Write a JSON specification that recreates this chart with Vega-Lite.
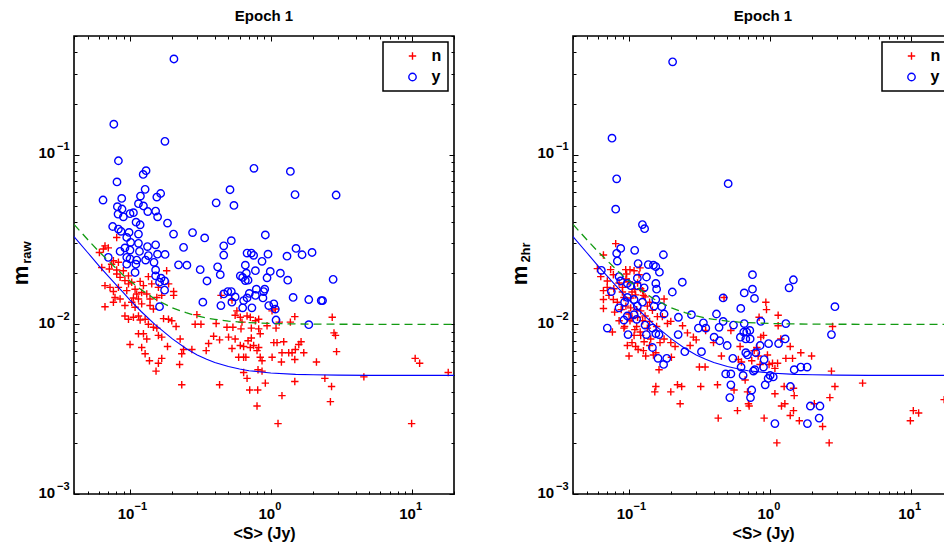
{
"$schema": "https://vega.github.io/schema/vega-lite/v6.json",
"autosize": {"type": "pad"},
"padding": {"left": 8, "top": 7, "right": 0, "bottom": 0},
"bounds": "flush",
"spacing": 119,
"resolve": {"scale": {"color": "independent", "shape": "independent"}, "legend": {"color": "independent", "shape": "independent"}},
"config": {
 "view": {"stroke": "black", "strokeWidth": 1.6},
 "font": "Liberation Sans",
 "axis": {"grid": false, "domain": false, "tickColor": "black", "tickWidth": 1, "labelColor": "black", "labelFont": "Liberation Sans", "labelFontWeight": "bold", "titleFont": "Liberation Sans", "titleFontWeight": "bold", "titleColor": "black", "labelOverlap": false, "labelFlush": false, "labelBound": false},
 "legend": {"padding": 6, "symbolOffset": 15.5, "labelOffset": 11, "rowPadding": 5, "symbolSize": 55, "symbolStrokeWidth": 1.4, "labelFont": "Liberation Sans", "labelFontSize": 16, "labelFontWeight": "bold", "labelColor": "black", "strokeColor": "black", "strokeWidth": 1.5, "fillColor": "white", "cornerRadius": 0},
 "title": {"font": "Liberation Sans", "fontSize": 15, "fontWeight": "bold", "color": "black", "offset": 3.3, "anchor": "middle"}
},
"datasets": {
 "fit": [
  {"S":0.04,"mb":0.0329,"mg":0.0388},{"S":0.05,"mb":0.0265,"mg":0.0316},{"S":0.06,"mb":0.0222,"mg":0.0269},{"S":0.07,"mb":0.0192,"mg":0.0237},{"S":0.08,"mb":0.0170,"mg":0.0213},{"S":0.09,"mb":0.0153,"mg":0.0194},{"S":0.1,"mb":0.0139,"mg":0.0180},{"S":0.12,"mb":0.0119,"mg":0.0160},{"S":0.15,"mb":0.0100,"mg":0.0141},{"S":0.2,"mb":0.0082,"mg":0.0125},{"S":0.25,"mb":0.0072,"mg":0.0117},{"S":0.3,"mb":0.0066,"mg":0.0112},{"S":0.35,"mb":0.00623,"mg":0.01088},{"S":0.4,"mb":0.00596,"mg":0.0107},{"S":0.5,"mb":0.00564,"mg":0.01044},{"S":0.6,"mb":0.00545,"mg":0.01031},{"S":0.7,"mb":0.00533,"mg":0.01023},{"S":1,"mb":0.00517,"mg":0.01011},{"S":1.5,"mb":0.00507,"mg":0.01005},{"S":2,"mb":0.00504,"mg":0.01003},{"S":3,"mb":0.00502,"mg":0.01001},{"S":5,"mb":0.005,"mg":0.01},{"S":10,"mb":0.005,"mg":0.01},{"S":20,"mb":0.005,"mg":0.01}
 ],
 "pl": [
  {"S":0.0804,"m":0.0325,"c":"n"},{"S":0.0664,"m":0.029,"c":"n"},{"S":0.0701,"m":0.0282,"c":"n"},{"S":0.0647,"m":0.0278,"c":"n"},{"S":0.0606,"m":0.0265,"c":"n"},{"S":0.0762,"m":0.0237,"c":"n"},{"S":0.0827,"m":0.0232,"c":"n"},{"S":0.074,"m":0.0226,"c":"n"},{"S":0.063,"m":0.0216,"c":"n"},{"S":0.0713,"m":0.0212,"c":"n"},{"S":0.0804,"m":0.0209,"c":"n"},{"S":0.0897,"m":0.0207,"c":"n"},{"S":0.0804,"m":0.0198,"c":"n"},{"S":0.085,"m":0.0189,"c":"n"},{"S":0.0975,"m":0.0193,"c":"n"},{"S":0.092,"m":0.0181,"c":"n"},{"S":0.1028,"m":0.0177,"c":"n"},{"S":0.118,"m":0.0179,"c":"n"},{"S":0.135,"m":0.0191,"c":"n"},{"S":0.182,"m":0.0207,"c":"n"},{"S":0.188,"m":0.0173,"c":"n"},{"S":0.0664,"m":0.0169,"c":"n"},{"S":0.0721,"m":0.0165,"c":"n"},{"S":0.0827,"m":0.0165,"c":"n"},{"S":0.0975,"m":0.0173,"c":"n"},{"S":0.1086,"m":0.0161,"c":"n"},{"S":0.1245,"m":0.0169,"c":"n"},{"S":0.1426,"m":0.0173,"c":"n"},{"S":0.159,"m":0.0165,"c":"n"},{"S":0.204,"m":0.0156,"c":"n"},{"S":0.204,"m":0.0148,"c":"n"},{"S":0.0762,"m":0.0156,"c":"n"},{"S":0.0948,"m":0.0158,"c":"n"},{"S":0.1116,"m":0.0151,"c":"n"},{"S":0.121,"m":0.0154,"c":"n"},{"S":0.1315,"m":0.0151,"c":"n"},{"S":0.0782,"m":0.0144,"c":"n"},{"S":0.085,"m":0.0141,"c":"n"},{"S":0.1057,"m":0.0143,"c":"n"},{"S":0.1148,"m":0.0141,"c":"n"},{"S":0.1387,"m":0.0141,"c":"n"},{"S":0.155,"m":0.0144,"c":"n"},{"S":0.168,"m":0.0148,"c":"n"},{"S":0.0762,"m":0.0135,"c":"n"},{"S":0.0664,"m":0.0127,"c":"n"},{"S":0.092,"m":0.0129,"c":"n"},{"S":0.1028,"m":0.0135,"c":"n"},{"S":0.1086,"m":0.0126,"c":"n"},{"S":0.121,"m":0.0132,"c":"n"},{"S":0.1387,"m":0.0129,"c":"n"},{"S":0.1466,"m":0.0123,"c":"n"},{"S":0.092,"m":0.0112,"c":"n"},{"S":0.0975,"m":0.0107,"c":"n"},{"S":0.1057,"m":0.011,"c":"n"},{"S":0.1148,"m":0.0112,"c":"n"},{"S":0.118,"m":0.0106,"c":"n"},{"S":0.128,"m":0.0107,"c":"n"},{"S":0.135,"m":0.01,"c":"n"},{"S":0.1466,"m":0.0096,"c":"n"},{"S":0.155,"m":0.0095,"c":"n"},{"S":0.173,"m":0.0108,"c":"n"},{"S":0.1875,"m":0.0107,"c":"n"},{"S":0.198,"m":0.0105,"c":"n"},{"S":0.2124,"m":0.0097,"c":"n"},{"S":0.1148,"m":0.0088,"c":"n"},{"S":0.1245,"m":0.0088,"c":"n"},{"S":0.1315,"m":0.0082,"c":"n"},{"S":0.159,"m":0.0086,"c":"n"},{"S":0.168,"m":0.0084,"c":"n"},{"S":0.1,"m":0.0076,"c":"n"},{"S":0.121,"m":0.0073,"c":"n"},{"S":0.1846,"m":0.0074,"c":"n"},{"S":0.227,"m":0.0082,"c":"n"},{"S":0.128,"m":0.0067,"c":"n"},{"S":0.1374,"m":0.0061,"c":"n"},{"S":0.159,"m":0.0059,"c":"n"},{"S":0.168,"m":0.0063,"c":"n"},{"S":0.153,"m":0.0053,"c":"n"},{"S":0.225,"m":0.0058,"c":"n"},{"S":0.233,"m":0.0067,"c":"n"},{"S":0.24,"m":0.0071,"c":"n"},{"S":0.275,"m":0.0071,"c":"n"},{"S":0.233,"m":0.0044,"c":"n"},{"S":0.2985,"m":0.0114,"c":"n"},{"S":0.29,"m":0.01,"c":"n"},{"S":0.319,"m":0.01,"c":"n"},{"S":0.3475,"m":0.007,"c":"n"},{"S":0.3614,"m":0.0077,"c":"n"},{"S":0.3924,"m":0.0085,"c":"n"},{"S":0.409,"m":0.0101,"c":"n"},{"S":0.4326,"m":0.0081,"c":"n"},{"S":0.4326,"m":0.0044,"c":"n"},{"S":0.443,"m":0.0148,"c":"n"},
  {"S":0.53,"m":0.0139,"c":"n"},{"S":0.574,"m":0.012,"c":"n"},{"S":0.558,"m":0.0113,"c":"n"},{"S":0.607,"m":0.011,"c":"n"},{"S":0.678,"m":0.0112,"c":"n"},{"S":0.715,"m":0.011,"c":"n"},{"S":0.624,"m":0.0103,"c":"n"},{"S":0.777,"m":0.0105,"c":"n"},{"S":0.82,"m":0.0107,"c":"n"},{"S":0.488,"m":0.0096,"c":"n"},{"S":0.538,"m":0.0096,"c":"n"},{"S":0.614,"m":0.0094,"c":"n"},{"S":0.727,"m":0.0095,"c":"n"},{"S":0.82,"m":0.0094,"c":"n"},{"S":0.841,"m":0.0088,"c":"n"},{"S":0.94,"m":0.0098,"c":"n"},{"S":1.089,"m":0.0095,"c":"n"},{"S":1.148,"m":0.0103,"c":"n"},{"S":1.377,"m":0.0103,"c":"n"},{"S":1.48,"m":0.0111,"c":"n"},{"S":1.02,"m":0.012,"c":"n"},{"S":1.077,"m":0.0123,"c":"n"},{"S":2.73,"m":0.011,"c":"n"},{"S":2.81,"m":0.0089,"c":"n"},{"S":2.88,"m":0.0086,"c":"n"},{"S":2.93,"m":0.0069,"c":"n"},{"S":0.501,"m":0.0084,"c":"n"},{"S":0.558,"m":0.0082,"c":"n"},{"S":0.53,"m":0.0072,"c":"n"},{"S":0.607,"m":0.0075,"c":"n"},{"S":0.641,"m":0.0074,"c":"n"},{"S":0.689,"m":0.008,"c":"n"},{"S":0.727,"m":0.0083,"c":"n"},{"S":0.755,"m":0.0075,"c":"n"},{"S":0.82,"m":0.0073,"c":"n"},{"S":0.715,"m":0.0073,"c":"n"},{"S":0.798,"m":0.007,"c":"n"},{"S":0.841,"m":0.0064,"c":"n"},{"S":0.866,"m":0.0061,"c":"n"},{"S":0.591,"m":0.0064,"c":"n"},{"S":0.641,"m":0.0064,"c":"n"},{"S":0.665,"m":0.0064,"c":"n"},{"S":1.021,"m":0.0064,"c":"n"},{"S":1.05,"m":0.0078,"c":"n"},{"S":1.107,"m":0.0078,"c":"n"},{"S":1.235,"m":0.0079,"c":"n"},{"S":1.2,"m":0.0068,"c":"n"},{"S":1.189,"m":0.006,"c":"n"},{"S":1.34,"m":0.0068,"c":"n"},{"S":1.415,"m":0.0068,"c":"n"},{"S":1.494,"m":0.0071,"c":"n"},{"S":1.58,"m":0.0076,"c":"n"},{"S":1.64,"m":0.0079,"c":"n"},{"S":1.714,"m":0.0068,"c":"n"},{"S":1.48,"m":0.0062,"c":"n"},{"S":2.109,"m":0.006,"c":"n"},{"S":0.641,"m":0.0052,"c":"n"},{"S":0.678,"m":0.0048,"c":"n"},{"S":0.811,"m":0.0054,"c":"n"},{"S":0.866,"m":0.0053,"c":"n"},{"S":0.914,"m":0.0045,"c":"n"},{"S":0.708,"m":0.0041,"c":"n"},{"S":0.807,"m":0.0041,"c":"n"},{"S":0.798,"m":0.0033,"c":"n"},{"S":1.2,"m":0.0038,"c":"n"},{"S":1.125,"m":0.0026,"c":"n"},{"S":1.48,"m":0.0046,"c":"n"},{"S":2.42,"m":0.0048,"c":"n"},{"S":2.7,"m":0.0043,"c":"n"},{"S":2.65,"m":0.0035,"c":"n"},{"S":4.58,"m":0.0049,"c":"n"},{"S":10.6,"m":0.0063,"c":"n"},{"S":11.4,"m":0.0059,"c":"n"},{"S":10.0,"m":0.0026,"c":"n"},{"S":18.2,"m":0.0052,"c":"n"},
  {"S":0.205,"m":0.366,"c":"y"},{"S":0.0767,"m":0.151,"c":"y"},{"S":0.177,"m":0.1197,"c":"y"},{"S":0.0827,"m":0.092,"c":"y"},{"S":0.759,"m":0.083,"c":"y"},{"S":1.377,"m":0.0796,"c":"y"},{"S":0.13,"m":0.0804,"c":"y"},{"S":0.124,"m":0.0764,"c":"y"},{"S":0.0808,"m":0.069,"c":"y"},{"S":0.513,"m":0.0621,"c":"y"},{"S":0.128,"m":0.0624,"c":"y"},{"S":1.486,"m":0.0581,"c":"y"},{"S":2.91,"m":0.0578,"c":"y"},{"S":0.165,"m":0.059,"c":"y"},{"S":0.155,"m":0.0562,"c":"y"},{"S":0.1186,"m":0.057,"c":"y"},{"S":0.0873,"m":0.0552,"c":"y"},{"S":0.0643,"m":0.054,"c":"y"},{"S":0.409,"m":0.052,"c":"y"},{"S":0.547,"m":0.0502,"c":"y"},{"S":0.1148,"m":0.0514,"c":"y"},{"S":0.1245,"m":0.0498,"c":"y"},{"S":0.0813,"m":0.0493,"c":"y"},{"S":0.0877,"m":0.0478,"c":"y"},{"S":0.1337,"m":0.0462,"c":"y"},{"S":0.152,"m":0.0465,"c":"y"},{"S":0.0822,"m":0.0446,"c":"y"},{"S":0.0897,"m":0.043,"c":"y"},{"S":0.1,"m":0.0449,"c":"y"},{"S":0.1057,"m":0.0455,"c":"y"},{"S":0.157,"m":0.043,"c":"y"},{"S":0.1104,"m":0.04,"c":"y"},{"S":0.1846,"m":0.0395,"c":"y"},{"S":0.118,"m":0.0386,"c":"y"},{"S":0.0753,"m":0.0377,"c":"y"},
  {"S":0.0827,"m":0.0364,"c":"y"},{"S":0.0863,"m":0.0353,"c":"y"},{"S":0.1148,"m":0.034,"c":"y"},{"S":0.0984,"m":0.0348,"c":"y"},{"S":0.0948,"m":0.0325,"c":"y"},{"S":0.101,"m":0.0304,"c":"y"},{"S":0.1148,"m":0.03,"c":"y"},{"S":0.092,"m":0.0282,"c":"y"},{"S":0.085,"m":0.0269,"c":"y"},{"S":0.1,"m":0.0274,"c":"y"},{"S":0.1167,"m":0.0269,"c":"y"},{"S":0.133,"m":0.0287,"c":"y"},{"S":0.152,"m":0.0294,"c":"y"},{"S":0.135,"m":0.0254,"c":"y"},{"S":0.1567,"m":0.0259,"c":"y"},{"S":0.1774,"m":0.0258,"c":"y"},{"S":0.2037,"m":0.034,"c":"y"},{"S":0.278,"m":0.0347,"c":"y"},{"S":0.339,"m":0.0323,"c":"y"},{"S":0.24,"m":0.0284,"c":"y"},{"S":0.0701,"m":0.0248,"c":"y"},{"S":0.0948,"m":0.0248,"c":"y"},{"S":0.1,"m":0.0243,"c":"y"},{"S":0.1116,"m":0.0239,"c":"y"},{"S":0.129,"m":0.0239,"c":"y"},{"S":0.148,"m":0.0232,"c":"y"},{"S":0.0948,"m":0.0226,"c":"y"},{"S":0.11,"m":0.0226,"c":"y"},{"S":0.221,"m":0.0224,"c":"y"},{"S":0.2535,"m":0.0223,"c":"y"},{"S":0.1086,"m":0.0202,"c":"y"},{"S":0.152,"m":0.0209,"c":"y"},{"S":0.152,"m":0.0193,"c":"y"},{"S":0.166,"m":0.0187,"c":"y"},{"S":0.176,"m":0.018,"c":"y"},{"S":0.162,"m":0.0177,"c":"y"},{"S":0.176,"m":0.0159,"c":"y"},{"S":0.162,"m":0.0127,"c":"y"},{"S":0.315,"m":0.021,"c":"y"},{"S":0.352,"m":0.018,"c":"y"},{"S":0.419,"m":0.0218,"c":"y"},{"S":0.4375,"m":0.0196,"c":"y"},{"S":0.329,"m":0.0135,"c":"y"},{"S":0.442,"m":0.0129,"c":"y"},{"S":0.463,"m":0.029,"c":"y"},{"S":0.463,"m":0.0256,"c":"y"},{"S":0.463,"m":0.0151,"c":"y"},
  {"S":0.914,"m":0.0336,"c":"y"},{"S":0.524,"m":0.0311,"c":"y"},{"S":0.678,"m":0.0263,"c":"y"},{"S":0.727,"m":0.0263,"c":"y"},{"S":0.755,"m":0.0255,"c":"y"},{"S":0.955,"m":0.0259,"c":"y"},{"S":0.866,"m":0.0235,"c":"y"},{"S":1.51,"m":0.028,"c":"y"},{"S":1.303,"m":0.0252,"c":"y"},{"S":1.667,"m":0.0257,"c":"y"},{"S":1.963,"m":0.0265,"c":"y"},{"S":0.659,"m":0.0223,"c":"y"},{"S":0.777,"m":0.0207,"c":"y"},{"S":0.607,"m":0.0193,"c":"y"},{"S":0.631,"m":0.0189,"c":"y"},{"S":0.67,"m":0.02,"c":"y"},{"S":0.659,"m":0.0181,"c":"y"},{"S":0.689,"m":0.0182,"c":"y"},{"S":0.94,"m":0.0188,"c":"y"},{"S":0.991,"m":0.0205,"c":"y"},{"S":1.169,"m":0.02,"c":"y"},{"S":1.319,"m":0.0182,"c":"y"},{"S":2.77,"m":0.0184,"c":"y"},{"S":0.495,"m":0.0156,"c":"y"},{"S":0.524,"m":0.0156,"c":"y"},{"S":0.558,"m":0.0145,"c":"y"},{"S":0.529,"m":0.0135,"c":"y"},{"S":0.641,"m":0.0138,"c":"y"},{"S":0.678,"m":0.0143,"c":"y"},{"S":0.703,"m":0.0152,"c":"y"},{"S":0.777,"m":0.0148,"c":"y"},{"S":0.789,"m":0.0161,"c":"y"},{"S":0.889,"m":0.0156,"c":"y"},{"S":0.905,"m":0.0161,"c":"y"},{"S":0.879,"m":0.0143,"c":"y"},{"S":0.734,"m":0.0125,"c":"y"},{"S":0.631,"m":0.0125,"c":"y"},{"S":0.967,"m":0.0129,"c":"y"},{"S":1.05,"m":0.0132,"c":"y"},{"S":1.076,"m":0.0123,"c":"y"},{"S":1.44,"m":0.0144,"c":"y"},{"S":1.86,"m":0.014,"c":"y"},{"S":2.28,"m":0.0138,"c":"y"},{"S":2.33,"m":0.0138,"c":"y"},{"S":1.089,"m":0.0106,"c":"y"},{"S":1.86,"m":0.00995,"c":"y"}
 ],
 "pr": [
  {"S":0.0804,"m":0.0299,"c":"n"},{"S":0.0658,"m":0.0256,"c":"n"},{"S":0.0596,"m":0.0213,"c":"n"},{"S":0.063,"m":0.0191,"c":"n"},{"S":0.0658,"m":0.0158,"c":"n"},{"S":0.0658,"m":0.014,"c":"n"},{"S":0.0658,"m":0.0124,"c":"n"},{"S":0.0701,"m":0.018,"c":"n"},{"S":0.074,"m":0.021,"c":"n"},{"S":0.0774,"m":0.0196,"c":"n"},{"S":0.0774,"m":0.014,"c":"n"},{"S":0.0826,"m":0.0135,"c":"n"},{"S":0.079,"m":0.0118,"c":"n"},{"S":0.0762,"m":0.009,"c":"n"},{"S":0.0947,"m":0.021,"c":"n"},{"S":0.1016,"m":0.021,"c":"n"},{"S":0.0962,"m":0.0198,"c":"n"},{"S":0.1086,"m":0.0207,"c":"n"},{"S":0.1197,"m":0.0215,"c":"n"},{"S":0.1178,"m":0.0196,"c":"n"},{"S":0.0897,"m":0.0155,"c":"n"},{"S":0.092,"m":0.0144,"c":"n"},{"S":0.1028,"m":0.0143,"c":"n"},{"S":0.1114,"m":0.0149,"c":"n"},{"S":0.121,"m":0.0162,"c":"n"},{"S":0.1265,"m":0.0148,"c":"n"},{"S":0.1028,"m":0.0125,"c":"n"},{"S":0.1133,"m":0.0122,"c":"n"},{"S":0.121,"m":0.012,"c":"n"},{"S":0.135,"m":0.0128,"c":"n"},{"S":0.1466,"m":0.0121,"c":"n"},{"S":0.159,"m":0.0111,"c":"n"},{"S":0.1724,"m":0.0111,"c":"n"},{"S":0.1874,"m":0.0101,"c":"n"},{"S":0.198,"m":0.0104,"c":"n"},{"S":0.1774,"m":0.0141,"c":"n"},{"S":0.093,"m":0.0097,"c":"n"},{"S":0.1016,"m":0.0105,"c":"n"},{"S":0.1133,"m":0.0097,"c":"n"},{"S":0.1086,"m":0.0086,"c":"n"},{"S":0.121,"m":0.0086,"c":"n"},{"S":0.135,"m":0.0095,"c":"n"},{"S":0.157,"m":0.0097,"c":"n"},{"S":0.1426,"m":0.0082,"c":"n"},{"S":0.0973,"m":0.0075,"c":"n"},{"S":0.1114,"m":0.0074,"c":"n"},{"S":0.1,"m":0.0065,"c":"n"},{"S":0.1265,"m":0.007,"c":"n"},{"S":0.1314,"m":0.0065,"c":"n"},{"S":0.149,"m":0.0066,"c":"n"},{"S":0.166,"m":0.0078,"c":"n"},{"S":0.1774,"m":0.0082,"c":"n"},{"S":0.198,"m":0.0078,"c":"n"},{"S":0.2124,"m":0.0074,"c":"n"},{"S":0.2,"m":0.0064,"c":"n"},{"S":0.1633,"m":0.0054,"c":"n"},{"S":0.155,"m":0.0043,"c":"n"},{"S":0.1524,"m":0.004,"c":"n"},{"S":0.2208,"m":0.0044,"c":"n"},{"S":0.2366,"m":0.0043,"c":"n"},{"S":0.198,"m":0.004,"c":"n"},{"S":0.2307,"m":0.0034,"c":"n"},{"S":0.2716,"m":0.0075,"c":"n"},{"S":0.2866,"m":0.0084,"c":"n"},{"S":0.316,"m":0.0056,"c":"n"},{"S":0.347,"m":0.0056,"c":"n"},{"S":0.323,"m":0.0043,"c":"n"},{"S":0.425,"m":0.0044,"c":"n"},{"S":0.43,"m":0.0028,"c":"n"},{"S":0.398,"m":0.0078,"c":"n"},{"S":0.453,"m":0.0065,"c":"n"},{"S":0.473,"m":0.0144,"c":"n"},{"S":0.529,"m":0.0092,"c":"n"},{"S":0.557,"m":0.0041,"c":"n"},{"S":0.589,"m":0.0031,"c":"n"},{"S":0.598,"m":0.0062,"c":"n"},{"S":0.615,"m":0.0074,"c":"n"},{"S":0.629,"m":0.006,"c":"n"},{"S":0.668,"m":0.0047,"c":"n"},{"S":0.694,"m":0.004,"c":"n"},{"S":0.705,"m":0.0034,"c":"n"},{"S":0.713,"m":0.0033,"c":"n"},{"S":0.744,"m":0.0061,"c":"n"},{"S":0.774,"m":0.007,"c":"n"},{"S":0.809,"m":0.0073,"c":"n"},{"S":0.826,"m":0.0065,"c":"n"},{"S":0.853,"m":0.0058,"c":"n"},{"S":0.863,"m":0.0084,"c":"n"},{"S":0.902,"m":0.0086,"c":"n"},{"S":0.839,"m":0.011,"c":"n"},{"S":0.937,"m":0.0135,"c":"n"},{"S":0.947,"m":0.0122,"c":"n"},{"S":0.911,"m":0.0028,"c":"n"},{"S":0.962,"m":0.0066,"c":"n"},{"S":0.988,"m":0.0058,"c":"n"},{"S":1.045,"m":0.0059,"c":"n"},{"S":1.087,"m":0.0039,"c":"n"},{"S":1.122,"m":0.002,"c":"n"},{"S":1.087,"m":0.0055,"c":"n"},{"S":1.135,"m":0.0059,"c":"n"},{"S":1.146,"m":0.0113,"c":"n"},{"S":1.146,"m":0.0098,"c":"n"},{"S":1.197,"m":0.0082,"c":"n"},{"S":1.21,"m":0.0033,"c":"n"},{"S":1.264,"m":0.0043,"c":"n"},{"S":1.279,"m":0.0034,"c":"n"},{"S":1.3,"m":0.0063,"c":"n"},{"S":1.396,"m":0.0074,"c":"n"},{"S":1.396,"m":0.0029,"c":"n"},{"S":1.45,"m":0.0063,"c":"n"},{"S":1.473,"m":0.0031,"c":"n"},{"S":1.49,"m":0.0038,"c":"n"},{"S":1.473,"m":0.0042,"c":"n"},{"S":1.66,"m":0.0068,"c":"n"},{"S":1.62,"m":0.0027,"c":"n"},{"S":1.98,"m":0.0065,"c":"n"},{"S":2.07,"m":0.0034,"c":"n"},{"S":2.37,"m":0.0025,"c":"n"},{"S":2.64,"m":0.002,"c":"n"},{"S":2.67,"m":0.0037,"c":"n"},{"S":2.74,"m":0.0053,"c":"n"},{"S":2.9,"m":0.0043,"c":"n"},{"S":2.79,"m":0.0097,"c":"n"},{"S":4.56,"m":0.0045,"c":"n"},{"S":9.96,"m":0.0027,"c":"n"},{"S":10.45,"m":0.0031,"c":"n"},{"S":11.4,"m":0.003,"c":"n"},{"S":17.3,"m":0.0036,"c":"n"},
  {"S":0.085,"m":0.0175,"c":"n"},{"S":0.09,"m":0.0165,"c":"n"},{"S":0.095,"m":0.0185,"c":"n"},{"S":0.1,"m":0.0178,"c":"n"},{"S":0.105,"m":0.0155,"c":"n"},{"S":0.11,"m":0.016,"c":"n"},{"S":0.115,"m":0.0175,"c":"n"},{"S":0.125,"m":0.0158,"c":"n"},{"S":0.13,"m":0.0145,"c":"n"},{"S":0.14,"m":0.0135,"c":"n"},{"S":0.088,"m":0.0122,"c":"n"},{"S":0.095,"m":0.0128,"c":"n"},{"S":0.1,"m":0.0115,"c":"n"},{"S":0.105,"m":0.0108,"c":"n"},{"S":0.115,"m":0.011,"c":"n"},{"S":0.125,"m":0.0105,"c":"n"},{"S":0.13,"m":0.0112,"c":"n"},{"S":0.14,"m":0.0104,"c":"n"},{"S":0.085,"m":0.0105,"c":"n"},{"S":0.092,"m":0.0095,"c":"n"},{"S":0.11,"m":0.0093,"c":"n"},{"S":0.12,"m":0.009,"c":"n"},{"S":0.128,"m":0.0079,"c":"n"},{"S":0.105,"m":0.0078,"c":"n"},{"S":0.116,"m":0.0071,"c":"n"},{"S":0.14,"m":0.0075,"c":"n"},{"S":0.155,"m":0.0068,"c":"n"},{"S":0.07,"m":0.0165,"c":"n"},{"S":0.072,"m":0.0148,"c":"n"},{"S":0.078,"m":0.0162,"c":"n"},{"S":0.24,"m":0.0098,"c":"n"},{"S":0.26,"m":0.0089,"c":"n"},{"S":0.3,"m":0.0081,"c":"n"},{"S":0.35,"m":0.0092,"c":"n"},
  {"S":0.204,"m":0.352,"c":"y"},{"S":0.0757,"m":0.125,"c":"y"},{"S":0.0817,"m":0.072,"c":"y"},{"S":0.506,"m":0.0674,"c":"y"},{"S":0.0804,"m":0.0477,"c":"y"},{"S":0.1245,"m":0.0387,"c":"y"},{"S":0.129,"m":0.0366,"c":"y"},{"S":0.0817,"m":0.0262,"c":"y"},{"S":0.0873,"m":0.028,"c":"y"},{"S":0.1097,"m":0.0273,"c":"y"},{"S":0.0826,"m":0.0236,"c":"y"},{"S":0.1754,"m":0.0257,"c":"y"},{"S":0.116,"m":0.0228,"c":"y"},{"S":0.137,"m":0.0225,"c":"y"},{"S":0.149,"m":0.0223,"c":"y"},{"S":0.155,"m":0.0219,"c":"y"},{"S":0.1644,"m":0.0203,"c":"y"},{"S":0.0636,"m":0.0208,"c":"y"},{"S":0.0849,"m":0.0191,"c":"y"},{"S":0.1146,"m":0.0187,"c":"y"},{"S":0.133,"m":0.019,"c":"y"},{"S":0.155,"m":0.0174,"c":"y"},{"S":0.239,"m":0.0177,"c":"y"},{"S":0.0873,"m":0.018,"c":"y"},{"S":0.0973,"m":0.0174,"c":"y"},{"S":0.1028,"m":0.0169,"c":"y"},{"S":0.1146,"m":0.0169,"c":"y"},{"S":0.128,"m":0.0164,"c":"y"},{"S":0.157,"m":0.0161,"c":"y"},{"S":0.203,"m":0.0155,"c":"y"},{"S":0.0749,"m":0.0156,"c":"y"},{"S":0.466,"m":0.0143,"c":"y"},{"S":0.753,"m":0.0196,"c":"y"},{"S":1.47,"m":0.0183,"c":"y"},{"S":1.37,"m":0.0164,"c":"y"},{"S":0.753,"m":0.0161,"c":"y"},{"S":0.658,"m":0.0153,"c":"y"},{"S":0.778,"m":0.0142,"c":"y"},{"S":0.093,"m":0.0135,"c":"y"},{"S":0.0973,"m":0.0144,"c":"y"},{"S":0.1086,"m":0.014,"c":"y"},{"S":0.1146,"m":0.0128,"c":"y"},{"S":0.1245,"m":0.0135,"c":"y"},{"S":0.155,"m":0.014,"c":"y"},{"S":0.1706,"m":0.0127,"c":"y"},{"S":0.1507,"m":0.0128,"c":"y"},{"S":0.0849,"m":0.0125,"c":"y"},{"S":0.0973,"m":0.0112,"c":"y"},{"S":0.1086,"m":0.0114,"c":"y"},{"S":0.092,"m":0.0106,"c":"y"},{"S":0.1133,"m":0.0107,"c":"y"},{"S":0.1774,"m":0.0115,"c":"y"},{"S":0.2243,"m":0.011,"c":"y"},{"S":0.2775,"m":0.0114,"c":"y"},{"S":2.9,"m":0.0127,"c":"y"},{"S":0.418,"m":0.0115,"c":"y"},{"S":0.466,"m":0.0104,"c":"y"},{"S":0.622,"m":0.0124,"c":"y"},{"S":0.3375,"m":0.0102,"c":"y"},{"S":0.311,"m":0.0095,"c":"y"},{"S":0.351,"m":0.0095,"c":"y"},{"S":0.436,"m":0.0096,"c":"y"},{"S":0.552,"m":0.0099,"c":"y"},{"S":0.658,"m":0.0101,"c":"y"},{"S":0.863,"m":0.0104,"c":"y"},{"S":1.3,"m":0.0101,"c":"y"},{"S":0.0701,"m":0.0095,"c":"y"},{"S":0.0984,"m":0.0087,"c":"y"},{"S":0.13,"m":0.0099,"c":"y"},{"S":0.1466,"m":0.0095,"c":"y"},{"S":0.155,"m":0.0088,"c":"y"},{"S":0.1633,"m":0.0087,"c":"y"},{"S":0.1328,"m":0.0087,"c":"y"},{"S":0.2233,"m":0.0087,"c":"y"},{"S":2.74,"m":0.0087,"c":"y"},{"S":0.402,"m":0.0084,"c":"y"},{"S":0.44,"m":0.008,"c":"y"},{"S":0.618,"m":0.0084,"c":"y"},{"S":0.653,"m":0.009,"c":"y"},{"S":0.675,"m":0.0082,"c":"y"},{"S":0.725,"m":0.0082,"c":"y"},{"S":0.685,"m":0.009,"c":"y"},{"S":0.721,"m":0.0092,"c":"y"},{"S":0.853,"m":0.0075,"c":"y"},{"S":0.98,"m":0.0077,"c":"y"},{"S":1.154,"m":0.0077,"c":"y"},{"S":1.285,"m":0.0082,"c":"y"},{"S":0.498,"m":0.0075,"c":"y"},{"S":0.1466,"m":0.0073,"c":"y"},{"S":0.249,"m":0.0069,"c":"y"},{"S":0.327,"m":0.0069,"c":"y"},{"S":0.1607,"m":0.0063,"c":"y"},{"S":0.1853,"m":0.0063,"c":"y"},{"S":0.176,"m":0.0058,"c":"y"},{"S":0.546,"m":0.0063,"c":"y"},{"S":0.675,"m":0.0068,"c":"y"},{"S":0.694,"m":0.0066,"c":"y"},{"S":0.795,"m":0.0068,"c":"y"},{"S":0.911,"m":0.0062,"c":"y"},{"S":0.902,"m":0.0056,"c":"y"},{"S":0.782,"m":0.0054,"c":"y"},{"S":0.625,"m":0.0056,"c":"y"},{"S":0.646,"m":0.005,"c":"y"},{"S":0.765,"m":0.0053,"c":"y"},{"S":1.005,"m":0.005,"c":"y"},{"S":0.973,"m":0.0048,"c":"y"},{"S":0.927,"m":0.0044,"c":"y"},{"S":1.057,"m":0.0049,"c":"y"},{"S":1.49,"m":0.0054,"c":"y"},{"S":1.66,"m":0.0056,"c":"y"},{"S":1.84,"m":0.0056,"c":"y"},{"S":0.486,"m":0.0051,"c":"y"},{"S":0.529,"m":0.0051,"c":"y"},{"S":0.529,"m":0.0044,"c":"y"},{"S":0.52,"m":0.0037,"c":"y"},{"S":0.744,"m":0.0041,"c":"y"},{"S":0.729,"m":0.0037,"c":"y"},{"S":1.4,"m":0.0043,"c":"y"},{"S":1.94,"m":0.0033,"c":"y"},{"S":2.27,"m":0.0033,"c":"y"},{"S":2.24,"m":0.0028,"c":"y"},{"S":1.85,"m":0.0026,"c":"y"},{"S":1.087,"m":0.0026,"c":"y"}
 ]
},
"hconcat": [
 {
  "width": 380, "height": 458,
  "title": {"text": "Epoch 1"},
  "resolve": {"axis": {"x": "independent", "y": "independent"}},
  "layer": [
   {
    "data": {"name": "pl"},
    "mark": {"type": "point", "filled": false, "size": 55, "strokeWidth": 1.4, "opacity": 1},
    "encoding": {
     "x": {"field": "S", "type": "quantitative", "scale": {"type": "log", "domain": [0.04, 20], "nice": false},
       "axis": {"orient": "bottom", "values": [0.04,0.05,0.06,0.07,0.08,0.09,0.1,0.2,0.3,0.4,0.5,0.6,0.7,0.8,0.9,1,2,3,4,5,6,7,8,9,10,20],
        "labelExpr": "(datum.value == 0.1 || datum.value == 1 || datum.value == 10) ? '10' : ''",
        "tickSize": {"condition": {"test": "datum.value == 0.1 || datum.value == 1 || datum.value == 10", "value": -5}, "value": -3},
        "labelPadding": 29, "labelBaseline": "alphabetic", "labelAlign": "center", "labelOffset": -4.5, "labelFontSize": 15,
        "title": "<S> (Jy)", "titleX": 190, "titleY": 44, "titleBaseline": "alphabetic", "titleAlign": "center", "titleAnchor": null, "titleFontSize": 16}},
     "y": {"field": "m", "type": "quantitative", "scale": {"type": "log", "domain": [0.001, 0.5], "nice": false},
       "axis": {"orient": "left", "values": [0.001,0.002,0.003,0.004,0.005,0.006,0.007,0.008,0.009,0.01,0.02,0.03,0.04,0.05,0.06,0.07,0.08,0.09,0.1,0.2,0.3,0.4,0.5],
        "labelExpr": "(datum.value == 0.001 || datum.value == 0.01 || datum.value == 0.1) ? '10' : ''",
        "tickSize": {"condition": {"test": "datum.value == 0.001 || datum.value == 0.01 || datum.value == 0.1", "value": -5}, "value": -3},
        "labelPadding": 24.4, "labelAlign": "right", "labelBaseline": "middle", "labelOffset": -2, "labelFontSize": 15,
        "title": "m", "titleX": -47, "titleY": 239, "titleAngle": 270, "titleBaseline": "alphabetic", "titleAlign": "center", "titleAnchor": null, "titleFontSize": 22}},
     "color": {"field": "c", "type": "nominal", "scale": {"domain": ["n", "y"], "range": ["#ff0000", "#0000ff"]}, "legend": {"title": null, "orient": "top-right", "offset": 6}},
     "shape": {"field": "c", "type": "nominal", "scale": {"domain": ["n", "y"], "range": ["M-1,0L1,0M0,-1L0,1", "circle"]}, "legend": {"title": null, "orient": "top-right", "offset": 6}}
    }
   },
   {
    "data": {"name": "fit"},
    "mark": {"type": "line", "color": "#0000ff", "strokeWidth": 1.1, "clip": true},
    "encoding": {
     "x": {"field": "S", "type": "quantitative", "scale": {"type": "log", "domain": [0.04, 20], "nice": false},
       "axis": {"orient": "top", "values": [0.04,0.05,0.06,0.07,0.08,0.09,0.1,0.2,0.3,0.4,0.5,0.6,0.7,0.8,0.9,1,2,3,4,5,6,7,8,9,10,20], "labels": false, "title": null,
        "tickSize": {"condition": {"test": "datum.value == 0.1 || datum.value == 1 || datum.value == 10", "value": -5}, "value": -3}}},
     "y": {"field": "mb", "type": "quantitative", "scale": {"type": "log", "domain": [0.001, 0.5], "nice": false},
       "axis": {"orient": "right", "values": [0.001,0.002,0.003,0.004,0.005,0.006,0.007,0.008,0.009,0.01,0.02,0.03,0.04,0.05,0.06,0.07,0.08,0.09,0.1,0.2,0.3,0.4,0.5], "labels": false, "title": null,
        "tickSize": {"condition": {"test": "datum.value == 0.001 || datum.value == 0.01 || datum.value == 0.1", "value": -5}, "value": -3}}}
    }
   },
   {
    "data": {"name": "fit"},
    "mark": {"type": "line", "color": "#139a13", "strokeWidth": 1.3, "strokeDash": [8, 5], "clip": true},
    "encoding": {
     "x": {"field": "S", "type": "quantitative", "scale": {"type": "log", "domain": [0.04, 20], "nice": false},
       "axis": {"orient": "bottom", "values": [0.1, 1, 10], "ticks": false, "title": null,
        "labelExpr": "datum.value == 0.1 ? '−1' : (datum.value == 1 ? '0' : '1')",
        "labelAlign": "left", "labelOffset": 4, "labelPadding": 15, "labelBaseline": "alphabetic", "labelFontSize": 11}},
     "y": {"field": "mg", "type": "quantitative", "scale": {"type": "log", "domain": [0.001, 0.5], "nice": false},
       "axis": {"orient": "left", "values": [0.001, 0.01, 0.1], "ticks": false,
        "labelExpr": "datum.value == 0.1 ? '−1' : (datum.value == 0.01 ? '−2' : '−3')",
        "labelAlign": "right", "labelPadding": 5, "labelBaseline": "middle", "labelOffset": -8, "labelFontSize": 11,
        "title": "raw", "titleX": -44, "titleY": 216, "titleAngle": 270, "titleBaseline": "alphabetic", "titleAlign": "center", "titleAnchor": null, "titleFontSize": 13}}
    }
   }
  ]
 },
 {
  "width": 380, "height": 458,
  "title": {"text": "Epoch 1"},
  "resolve": {"axis": {"x": "independent", "y": "independent"}},
  "layer": [
   {
    "data": {"name": "pr"},
    "mark": {"type": "point", "filled": false, "size": 55, "strokeWidth": 1.4, "opacity": 1},
    "encoding": {
     "x": {"field": "S", "type": "quantitative", "scale": {"type": "log", "domain": [0.04, 20], "nice": false},
       "axis": {"orient": "bottom", "values": [0.04,0.05,0.06,0.07,0.08,0.09,0.1,0.2,0.3,0.4,0.5,0.6,0.7,0.8,0.9,1,2,3,4,5,6,7,8,9,10,20],
        "labelExpr": "(datum.value == 0.1 || datum.value == 1 || datum.value == 10) ? '10' : ''",
        "tickSize": {"condition": {"test": "datum.value == 0.1 || datum.value == 1 || datum.value == 10", "value": -5}, "value": -3},
        "labelPadding": 29, "labelBaseline": "alphabetic", "labelAlign": "center", "labelOffset": -4.5, "labelFontSize": 15,
        "title": "<S> (Jy)", "titleX": 190, "titleY": 44, "titleBaseline": "alphabetic", "titleAlign": "center", "titleAnchor": null, "titleFontSize": 16}},
     "y": {"field": "m", "type": "quantitative", "scale": {"type": "log", "domain": [0.001, 0.5], "nice": false},
       "axis": {"orient": "left", "values": [0.001,0.002,0.003,0.004,0.005,0.006,0.007,0.008,0.009,0.01,0.02,0.03,0.04,0.05,0.06,0.07,0.08,0.09,0.1,0.2,0.3,0.4,0.5],
        "labelExpr": "(datum.value == 0.001 || datum.value == 0.01 || datum.value == 0.1) ? '10' : ''",
        "tickSize": {"condition": {"test": "datum.value == 0.001 || datum.value == 0.01 || datum.value == 0.1", "value": -5}, "value": -3},
        "labelPadding": 24.4, "labelAlign": "right", "labelBaseline": "middle", "labelOffset": -2, "labelFontSize": 15,
        "title": "m", "titleX": -47, "titleY": 239, "titleAngle": 270, "titleBaseline": "alphabetic", "titleAlign": "center", "titleAnchor": null, "titleFontSize": 22}},
     "color": {"field": "c", "type": "nominal", "scale": {"domain": ["n", "y"], "range": ["#ff0000", "#0000ff"]}, "legend": {"title": null, "orient": "top-right", "offset": 6}},
     "shape": {"field": "c", "type": "nominal", "scale": {"domain": ["n", "y"], "range": ["M-1,0L1,0M0,-1L0,1", "circle"]}, "legend": {"title": null, "orient": "top-right", "offset": 6}}
    }
   },
   {
    "data": {"name": "fit"},
    "mark": {"type": "line", "color": "#0000ff", "strokeWidth": 1.1, "clip": true},
    "encoding": {
     "x": {"field": "S", "type": "quantitative", "scale": {"type": "log", "domain": [0.04, 20], "nice": false},
       "axis": {"orient": "top", "values": [0.04,0.05,0.06,0.07,0.08,0.09,0.1,0.2,0.3,0.4,0.5,0.6,0.7,0.8,0.9,1,2,3,4,5,6,7,8,9,10,20], "labels": false, "title": null,
        "tickSize": {"condition": {"test": "datum.value == 0.1 || datum.value == 1 || datum.value == 10", "value": -5}, "value": -3}}},
     "y": {"field": "mb", "type": "quantitative", "scale": {"type": "log", "domain": [0.001, 0.5], "nice": false},
       "axis": {"orient": "right", "values": [0.001,0.002,0.003,0.004,0.005,0.006,0.007,0.008,0.009,0.01,0.02,0.03,0.04,0.05,0.06,0.07,0.08,0.09,0.1,0.2,0.3,0.4,0.5], "labels": false, "title": null,
        "tickSize": {"condition": {"test": "datum.value == 0.001 || datum.value == 0.01 || datum.value == 0.1", "value": -5}, "value": -3}}}
    }
   },
   {
    "data": {"name": "fit"},
    "mark": {"type": "line", "color": "#139a13", "strokeWidth": 1.3, "strokeDash": [8, 5], "clip": true},
    "encoding": {
     "x": {"field": "S", "type": "quantitative", "scale": {"type": "log", "domain": [0.04, 20], "nice": false},
       "axis": {"orient": "bottom", "values": [0.1, 1, 10], "ticks": false, "title": null,
        "labelExpr": "datum.value == 0.1 ? '−1' : (datum.value == 1 ? '0' : '1')",
        "labelAlign": "left", "labelOffset": 4, "labelPadding": 15, "labelBaseline": "alphabetic", "labelFontSize": 11}},
     "y": {"field": "mg", "type": "quantitative", "scale": {"type": "log", "domain": [0.001, 0.5], "nice": false},
       "axis": {"orient": "left", "values": [0.001, 0.01, 0.1], "ticks": false,
        "labelExpr": "datum.value == 0.1 ? '−1' : (datum.value == 0.01 ? '−2' : '−3')",
        "labelAlign": "right", "labelPadding": 5, "labelBaseline": "middle", "labelOffset": -8, "labelFontSize": 11,
        "title": "2hr", "titleX": -44, "titleY": 216, "titleAngle": 270, "titleBaseline": "alphabetic", "titleAlign": "center", "titleAnchor": null, "titleFontSize": 13}}
    }
   }
  ]
 }
]
}
